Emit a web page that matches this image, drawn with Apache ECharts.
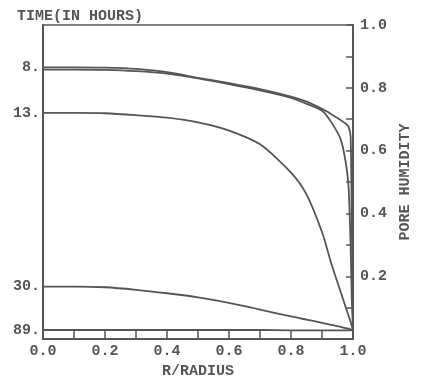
<!DOCTYPE html>
<html>
<head>
<meta charset="utf-8">
<script src="https://cdn.jsdelivr.net/npm/echarts@6/dist/echarts.min.js"></script>
<style>
  html, body { margin: 0; padding: 0; background: #fff; }
  #chart { width: 421px; height: 384px; }
</style>
</head>
<body>
<div id="chart"></div>
<script>
// r/radius sample points (dense near the surface)
var radius = [0, 0.1, 0.2, 0.3, 0.4, 0.5, 0.6, 0.7, 0.8, 0.85, 0.9, 0.93, 0.96, 0.975, 0.985, 0.992, 0.996, 1.0];

// pore humidity profiles
var hum8a = [0.865, 0.865, 0.864, 0.860, 0.850, 0.832, 0.815, 0.796, 0.772, 0.756, 0.733, 0.716, 0.697, 0.687, 0.677, 0.645, 0.350, 0.028];
var hum8b = [0.858, 0.858, 0.857, 0.853, 0.845, 0.830, 0.812, 0.792, 0.768, 0.749, 0.727, 0.690, 0.636, 0.570, 0.490, 0.300, 0.120, 0.028];
var hum13 = [0.720, 0.720, 0.719, 0.713, 0.705, 0.690, 0.664, 0.620, 0.530, 0.460, 0.340, 0.240, 0.150, 0.105, 0.075, 0.055, 0.042, 0.028];
var hum30 = [0.167, 0.167, 0.165, 0.157, 0.146, 0.133, 0.115, 0.094, 0.072, 0.062, 0.052, 0.045, 0.039, 0.035, 0.033, 0.031, 0.030, 0.028];
var hum89 = [0.029, 0.029, 0.029, 0.029, 0.029, 0.029, 0.029, 0.029, 0.028, 0.028, 0.028, 0.028, 0.028, 0.028, 0.028, 0.028, 0.028, 0.028];

var curves = [hum8a, hum8b, hum13, hum30, hum89];
// left-hand time labels, placed at the start of the curve they name
var timeLabels = ['8.', '13.', '30.', '89.'];
var labelledCurves = [hum8a, hum13, hum30, hum89];

var humTicks = [0.2, 0.4, 0.6, 0.8, 1.0];
var xTicks = [0, 0.2, 0.4, 0.6, 0.8, 1.0];

var ink = '#555';
var font = 'Liberation Mono';
var txt = { fontFamily: font, fontSize: 15, fontWeight: 'bold', color: ink };

var myChart = echarts.init(document.getElementById('chart'));

var startVals = labelledCurves.map(function (c) { return c[0]; });

var series = curves.map(function (vals, i) {
  return {
    type: 'line',
    name: 'c' + i,
    showSymbol: false,
    smooth: 0.25,
    lineStyle: { color: '#555', width: 1.8 },
    data: radius.map(function (r, k) { return [r, vals[k]]; }),
    yAxisIndex: 1
  };
});

var option = {
  animation: false,
  title: {
    text: 'TIME(IN HOURS)',
    left: 12,
    top: 4,
    textStyle: txt
  },
  grid: {
    left: 43, right: 61, top: 25, bottom: 41,
    show: true, borderColor: ink, borderWidth: 1.5
  },
  xAxis: {
    type: 'value', min: 0, max: 1, interval: 0.1,
    name: 'R/RADIUS', nameLocation: 'middle', nameGap: 21,
    nameTextStyle: txt,
    axisLine: { lineStyle: { color: ink, width: 2 } },
    axisTick: { inside: true, length: 8, lineStyle: { color: ink, width: 1.5 } },
    splitLine: { show: false },
    axisLabel: Object.assign({
      customValues: xTicks, margin: 5,
      formatter: function (v) { return v.toFixed(1); }
    }, txt)
  },
  yAxis: [
    {
      type: 'value', min: 0, max: 1, position: 'left',
      axisLine: { show: true, lineStyle: { color: ink, width: 2 } },
      axisTick: { show: false },
      splitLine: { show: false },
      axisLabel: Object.assign({
        customValues: startVals, margin: 3,
        formatter: function (v) { return timeLabels[startVals.indexOf(v)]; }
      }, txt)
    },
    {
      type: 'value', min: 0, max: 1, interval: 0.1, position: 'right',
      name: 'PORE HUMIDITY', nameLocation: 'middle', nameGap: 40, nameRotate: 90,
      nameTextStyle: txt,
      axisLine: { show: true, lineStyle: { color: ink, width: 2 } },
      axisTick: { inside: true, length: 7, lineStyle: { color: ink, width: 1.5 } },
      splitLine: { show: false },
      axisLabel: Object.assign({
        customValues: humTicks, margin: 7,
        formatter: function (v) { return v.toFixed(1); }
      }, txt)
    }
  ],
  series: series
};

myChart.setOption(option);
</script>
</body>
</html>
